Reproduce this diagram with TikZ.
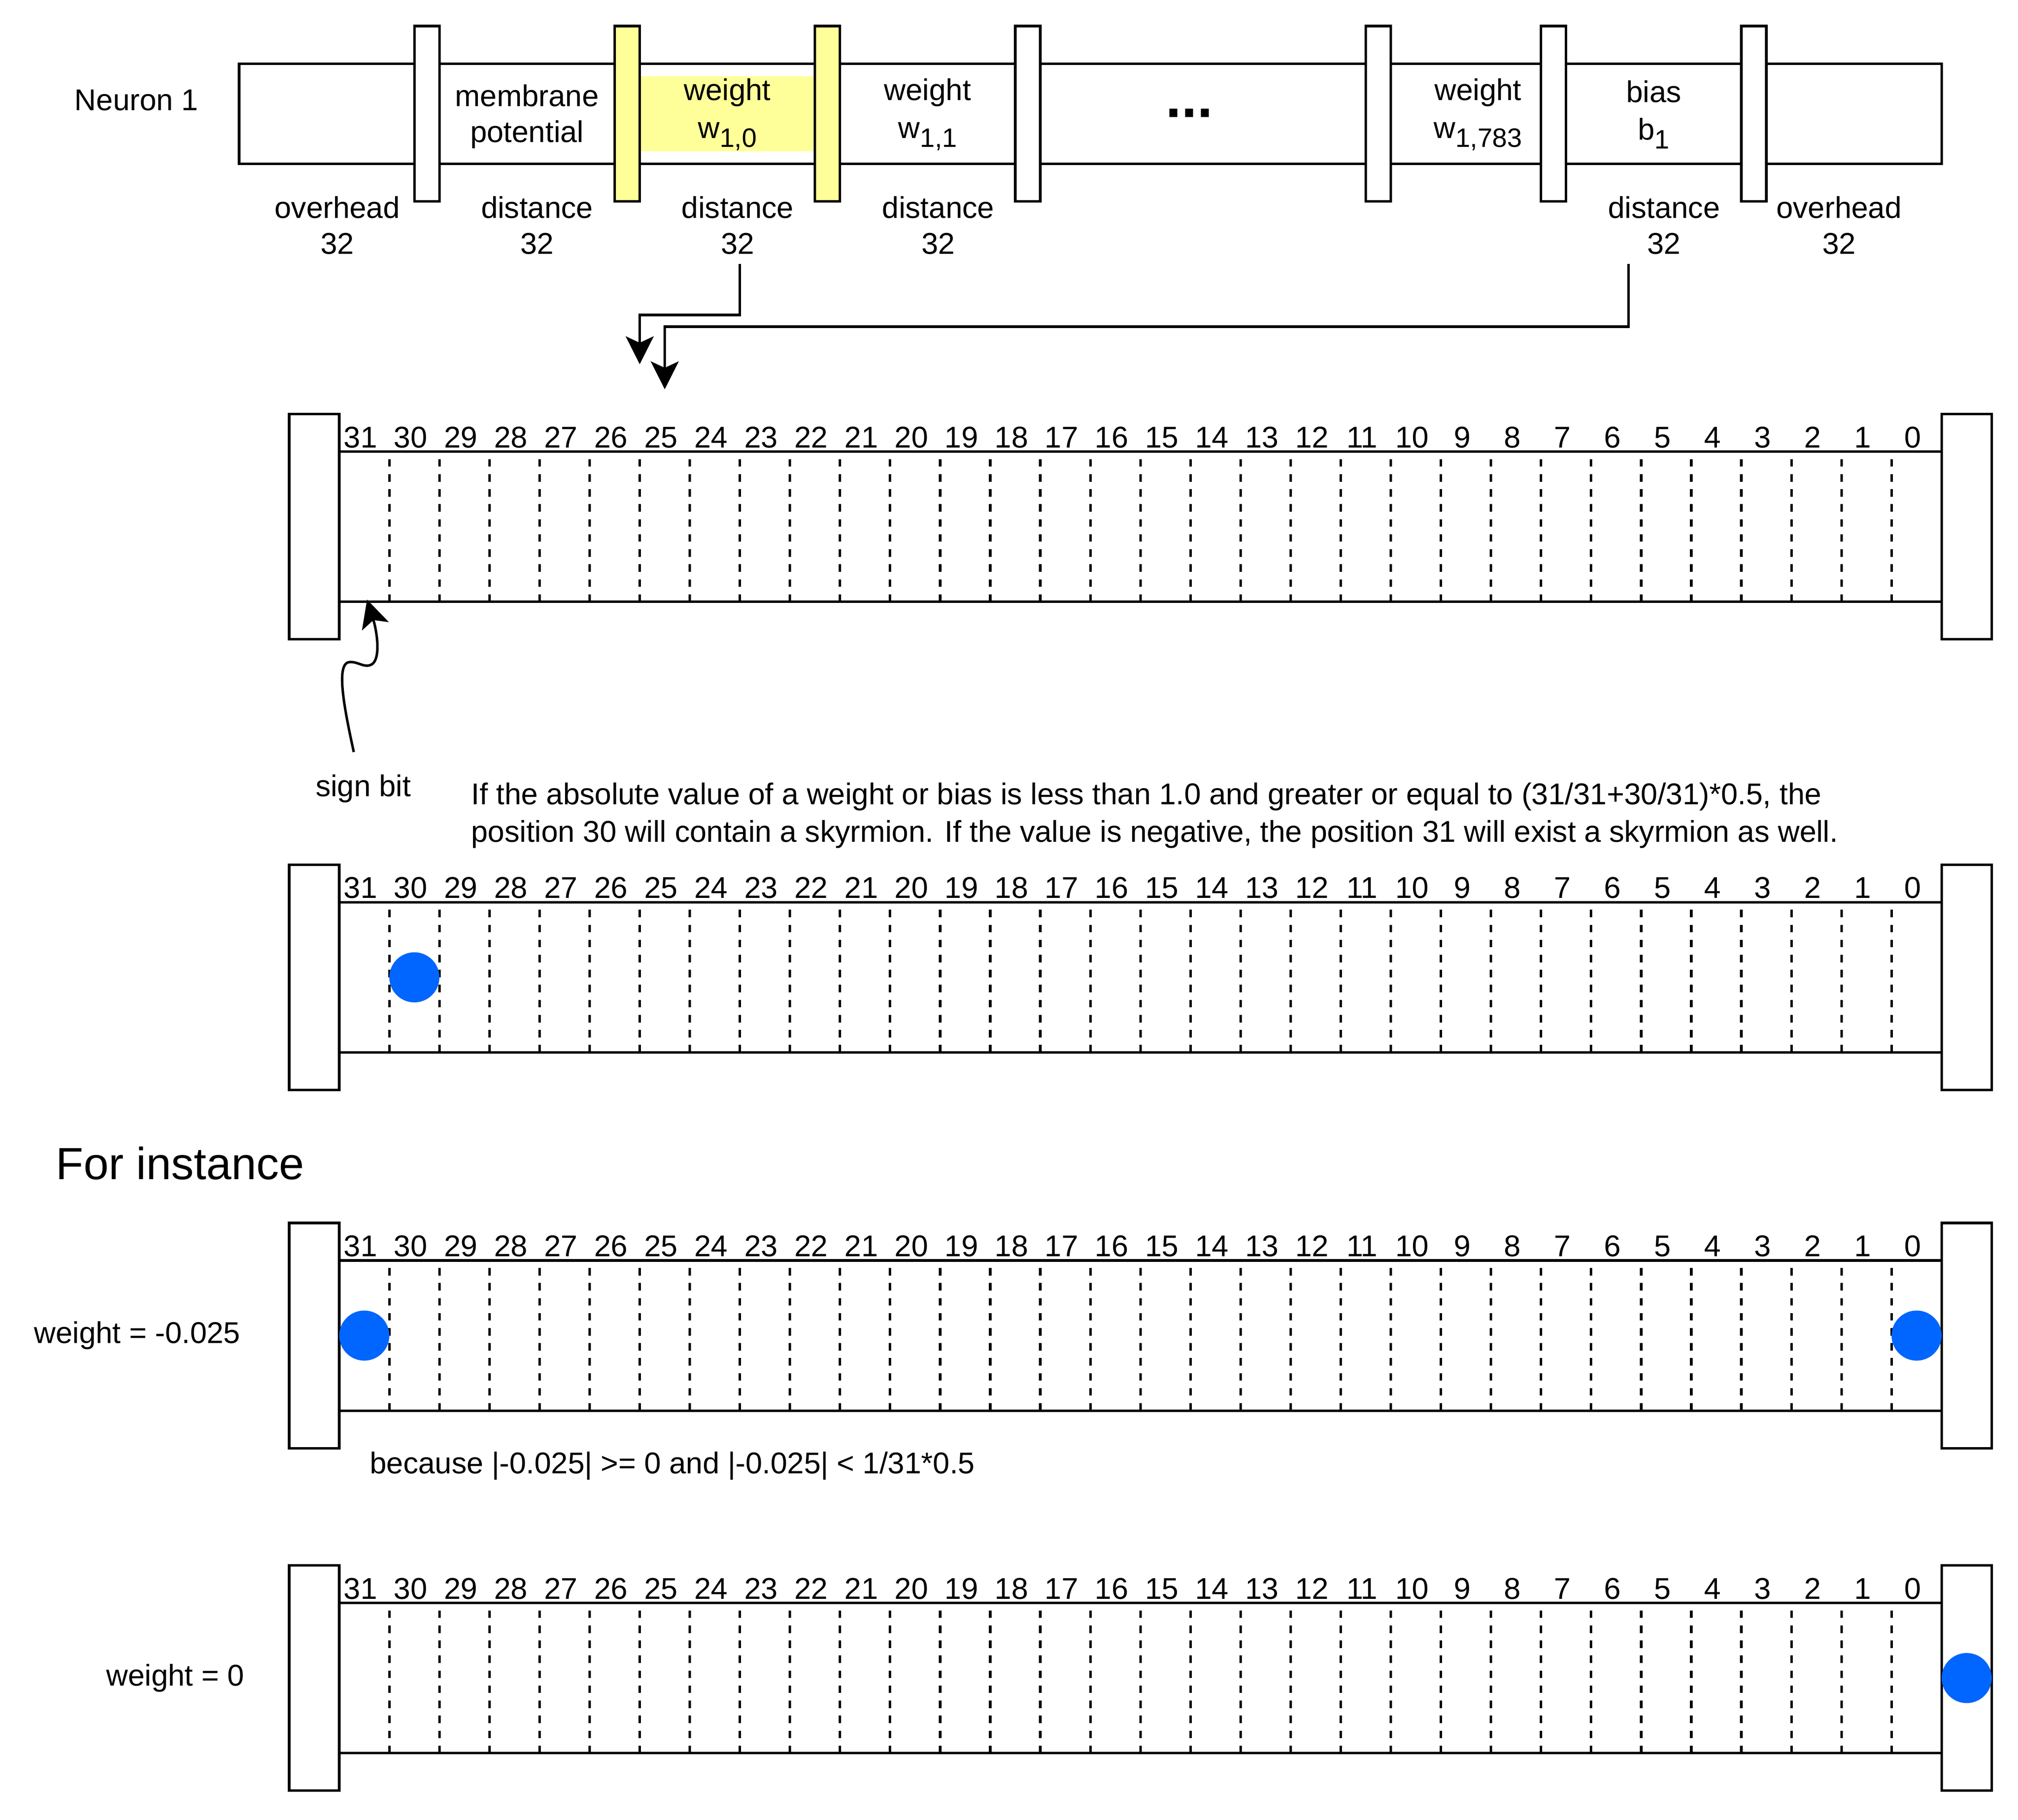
\documentclass[tikz,border=0pt]{standalone}
\usepackage{fontspec}
\setmainfont{Liberation Sans}
\usetikzlibrary{arrows.meta}
\definecolor{hiyellow}{HTML}{FFFF99}
\definecolor{skblue}{HTML}{0066FF}
\newcommand{\lowidx}[1]{\raisebox{-1.26mm}{\fontsize{10.6}{12}\selectfont #1}}
\begin{document}
\begin{tikzpicture}[x = 0.35mm, y = -0.35mm, line width = 0.35mm,
	txt/.style = {inner sep = 0pt, font = \fontsize{11.95}{14.35}\selectfont},
	twoline/.style = {txt, align = center},
	bar/.style = {draw, fill = white},
	hibar/.style = {draw, fill = hiyellow},
	bitsep/.style = {dash pattern = on 1.05mm off 1.05mm},
	flow/.style = {-{Stealth[length = 3.9mm, width = 3.9mm, inset = 0.9mm]}},
	skyrmion/.style = {fill = skblue}]

	\useasboundingbox (0, 0) rectangle (806, 727);

	\coordinate (srcA) at (295.5, 105.5);
	\coordinate (tipA) at (255.5, 145.5);
	\coordinate (srcB) at (650.5, 105.5);
	\coordinate (tipB) at (265.5, 155.5);
	\coordinate (signsrc) at (141.3, 300.4);
	\coordinate (signtip) at (146.6, 239.5);

	\draw [fill = white] (95.5, 25.5) rectangle (775.5, 65.5);
	\fill [hiyellow] (255.5, 30.5) rectangle (325.5, 60.5);
	\foreach \x in {165.5, 405.5, 545.5, 615.5, 695.5}
		\draw [bar] (\x, 10.4) rectangle ++(10, 70);
	\foreach \x in {245.5, 325.5}
		\draw [hibar] (\x, 10.4) rectangle ++(10, 70);

	\node [txt] (neuron) at (54.5, 40) {Neuron 1};
	\node [twoline] (membrane) at (210.5, 46.5) {membrane\\potential};
	\node [twoline] (w10) at (290.5, 45.8) {weight\\[0.65pt]w\lowidx{1,0}};
	\node [twoline] (w11) at (370.5, 45.8) {weight\\[0.65pt]w\lowidx{1,1}};
	\node [txt, font = \fontsize{22.3}{26}\selectfont\bfseries, anchor = base] (dots) at (475, 46.8) {...};
	\node [twoline] (w1783) at (590.3, 45.8) {weight\\[0.65pt]w\lowidx{1,783}};
	\node [twoline] (bias) at (660.5, 45.8) {bias\\[0.65pt]b\lowidx{1}};

	\node [twoline] (ovhL) at (134.7, 90) {overhead\\32};
	\node [twoline] (distM) at (214.5, 90) {distance\\32};
	\node [twoline] (distA) at (294.6, 90) {distance\\32};
	\node [twoline] (distB) at (374.7, 90) {distance\\32};
	\node [twoline] (distBias) at (664.6, 90) {distance\\32};
	\node [twoline] (ovhR) at (734.5, 90) {overhead\\32};

	\draw [flow] (srcA) -- ++(0, 20.3) -| (tipA);
	\draw [flow] (srcB) -- ++(0, 25) -| (tipB);

	\foreach \T [count = \r] in {165.4, 345.4, 488.5, 625.3} {
		\draw [bar] (115.5, \T) rectangle ++(20, 90);
		\draw [bar] (775.5, \T) rectangle ++(20, 90);
		\draw (135.5, \T + 15) -- (775.5, \T + 15);
		\draw (135.5, \T + 75) -- (775.5, \T + 75);
		\foreach \i in {1, ..., 31}
			\draw [bitsep] (135.5 + 20 * \i, \T + 75) -- (135.5 + 20 * \i, \T + 15);
		\foreach \i in {0, ..., 31} {
			\pgfmathtruncatemacro{\bitno}{31 - \i}
			\node [txt, anchor = base] (b\r-\i) at (144 + 20 * \i, \T + 13.4) {\bitno};
		}
	}

	\fill [skyrmion] (165.5, 390.4) circle (3.5mm);
	\fill [skyrmion] (145.5, 533.5) circle (3.5mm);
	\fill [skyrmion] (765.5, 533.5) circle (3.5mm);
	\fill [skyrmion] (785.5, 670.3) circle (3.5mm);

	\node [txt] (signbit) at (145.1, 315) {sign bit};
	\draw [flow] (signsrc) .. controls (137.5, 283) and (134, 265) .. (139.5, 264.5)
		.. controls (143, 264) and (146, 267.5) .. (149, 265)
		.. controls (152, 262) and (150.5, 252) .. (signtip);

	\node [txt, font = \fontsize{11.95}{14.94}\selectfont, align = left, anchor = north west] (rule) at (187.7, 312.2) {If the absolute value of a weight or bias is less than 1.0 and greater or equal to (31/31+30/31)*0.5, the\\position 30 will contain a skyrmion. If the value is negative, the position 31 will exist a skyrmion as well.};

	\node [txt, font = \fontsize{17.93}{21.5}\selectfont, anchor = west] (example) at (21.9, 464.7) {For instance};
	\node [txt] (wneg) at (54.8, 533.5) {weight = -0.025};
	\node [txt, anchor = west] (because) at (147.2, 585.5) {because |-0.025| >= 0 and |-0.025| < 1/31*0.5};
	\node [txt] (wzero) at (70, 670.3) {weight = 0};
\end{tikzpicture}
\end{document}
